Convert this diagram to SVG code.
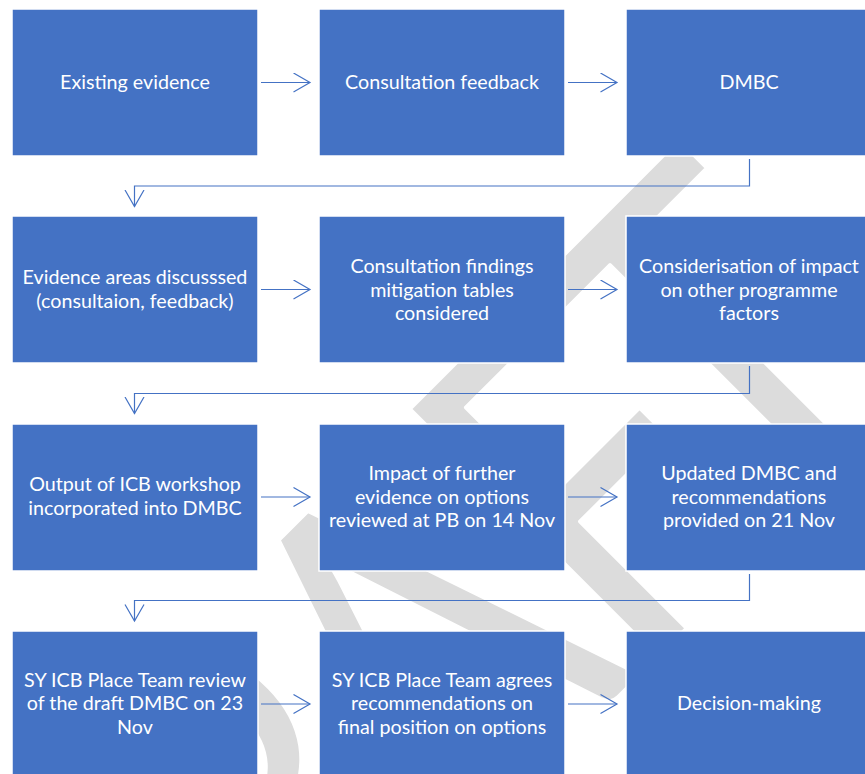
<svg xmlns="http://www.w3.org/2000/svg" width="865" height="774" viewBox="0 0 865 774">
<style>
.box{fill:#4472C4;stroke:#ffffff;stroke-width:1.5}
.lbl{font-family:Lato,"Noto Sans",sans-serif;font-size:19.7px;fill:#ffffff;text-anchor:middle}
.conn{stroke:#4472C4;stroke-width:1.2;fill:none}
.wm{font-family:Lato,"Noto Sans",sans-serif;font-size:490px;fill:#dcdcdc;stroke:#ffffff;stroke-width:4;stroke-linejoin:round}
</style>
<defs>
<marker id="arr" markerWidth="20" markerHeight="22" refX="17" refY="10" orient="auto" markerUnits="userSpaceOnUse">
<path d="M0.5,0.5 L17,10 L0.5,19.5" fill="none" stroke="#4472C4" stroke-width="1.2"/>
</marker>
</defs>
<rect width="865" height="774" fill="#ffffff"/>
<text class="wm" transform="rotate(-45) scale(0.85 1)" y="930"><tspan x="-984">D</tspan><tspan x="-621">R</tspan><tspan x="-359">A</tspan><tspan x="-44">F</tspan><tspan x="166">T</tspan></text>

<g id="n1"><rect class="box" x="12" y="9" width="246" height="147"/><text class="lbl" x="135" y="89">Existing evidence</text></g>
<g id="n2"><rect class="box" x="319" y="9" width="246" height="147"/><text class="lbl" x="442" y="89">Consultation feedback</text></g>
<g id="n3"><rect class="box" x="626" y="9" width="246" height="147"/><text class="lbl" x="749" y="89">DMBC</text></g>

<g id="n4"><rect class="box" x="12" y="216" width="246" height="147"/><text class="lbl" x="135" y="284">Evidence areas discusssed</text><text class="lbl" x="135" y="307.5">(consultaion, feedback)</text></g>
<g id="n5"><rect class="box" x="319" y="216" width="246" height="147"/><text class="lbl" x="442" y="273">Consultation findings</text><text class="lbl" x="442" y="296.5">mitigation tables</text><text class="lbl" x="442" y="320">considered</text></g>
<g id="n6"><rect class="box" x="626" y="216" width="246" height="147"/><text class="lbl" x="749" y="273">Considerisation of impact</text><text class="lbl" x="749" y="296.5">on other programme</text><text class="lbl" x="749" y="320">factors</text></g>

<g id="n7"><rect class="box" x="12" y="424" width="246" height="147"/><text class="lbl" x="135" y="491">Output of ICB workshop</text><text class="lbl" x="135" y="514.5">incorporated into DMBC</text></g>
<g id="n8"><rect class="box" x="319" y="424" width="246" height="147"/><text class="lbl" x="442" y="480">Impact of further</text><text class="lbl" x="442" y="503.5">evidence on options</text><text class="lbl" x="442" y="527">reviewed at PB on 14 Nov</text></g>
<g id="n9"><rect class="box" x="626" y="424" width="246" height="147"/><text class="lbl" x="749" y="480">Updated DMBC and</text><text class="lbl" x="749" y="503.5">recommendations</text><text class="lbl" x="749" y="527">provided on 21 Nov</text></g>

<g id="n10"><rect class="box" x="12" y="631" width="246" height="147"/><text class="lbl" x="135" y="687">SY ICB Place Team review</text><text class="lbl" x="135" y="710">of the draft DMBC on 23</text><text class="lbl" x="135" y="733.5">Nov</text></g>
<g id="n11"><rect class="box" x="319" y="631" width="246" height="147"/><text class="lbl" x="442" y="687">SY ICB Place Team agrees</text><text class="lbl" x="442" y="710">recommendations on</text><text class="lbl" x="442" y="733.5">final position on options</text></g>
<g id="n12"><rect class="box" x="626" y="631" width="246" height="147"/><text class="lbl" x="749" y="710">Decision-making</text></g>

<g id="connectors">
<path class="conn" marker-end="url(#arr)" d="M261,82.5 H310"/>
<path class="conn" marker-end="url(#arr)" d="M568,82.5 H617"/>
<path class="conn" marker-end="url(#arr)" d="M749.5,159 V186 H134.5 V206.5"/>
<path class="conn" marker-end="url(#arr)" d="M261,289.5 H310"/>
<path class="conn" marker-end="url(#arr)" d="M568,289.5 H617"/>
<path class="conn" marker-end="url(#arr)" d="M749.5,366 V393.5 H134.5 V413.5"/>
<path class="conn" marker-end="url(#arr)" d="M261,497 H310"/>
<path class="conn" marker-end="url(#arr)" d="M568,497 H617"/>
<path class="conn" marker-end="url(#arr)" d="M749.5,574 V600.5 H134.5 V621"/>
<path class="conn" marker-end="url(#arr)" d="M261,704 H310"/>
<path class="conn" marker-end="url(#arr)" d="M568,704 H617"/>
</g>
</svg>
